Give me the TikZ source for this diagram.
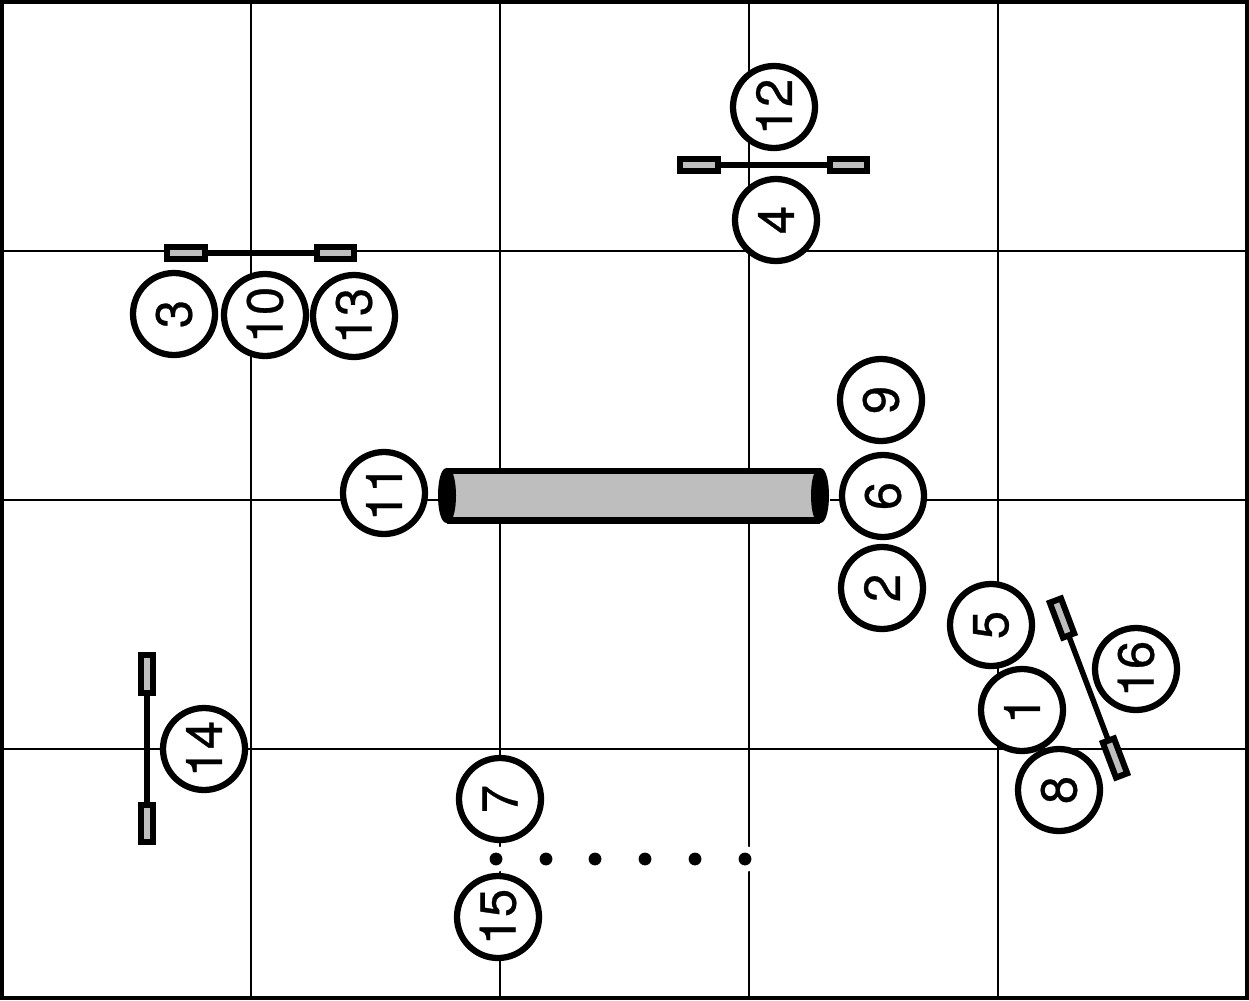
\documentclass[tikz,border=0pt]{standalone}
\usepackage{fontspec}
\setmainfont[FakeBold=0.6]{TeX Gyre Heros}
\definecolor{fillgrey}{HTML}{BEBEBE}
\tikzset{
  px/.style={x=0.75pt,y=-0.75pt},
  gridline/.style={line width=1.5pt,black},
  frameline/.style={line width=3pt,black},
  player/.style={circle,draw=black,fill=white,line width=4.7pt,minimum size=61.5pt,inner sep=0pt,outer sep=0pt,rotate=90,font=\fontsize{38}{38}\selectfont},
  barline/.style={line width=4.1pt,black},
  barend/.style={rectangle,draw=black,fill=fillgrey,line width=4.5pt,minimum width=28pt,minimum height=9pt,inner sep=0pt,outer sep=0pt},
  marker/.style={circle,fill=black,minimum size=9.6pt,inner sep=0pt,outer sep=0pt},
  halo/.style={circle,fill=white,minimum size=19.5pt,inner sep=0pt,outer sep=0pt},
  tubecap/.style={draw=black,fill=black,line width=3.75pt},
}
\begin{document}
\begin{tikzpicture}[px]
\useasboundingbox (0,0) rectangle (1249,1000);
\fill[white] (0,0) rectangle (1249,1000);

% field grid
\foreach \gx in {251,500,749,998} \draw[gridline] (\gx,0) -- (\gx,1000);
\foreach \gy in {251,500,749} \draw[gridline] (0,\gy) -- (1249,\gy);
\draw[frameline] (2,2) rectangle (1247,998);

% row of small markers
\foreach \mx [count=\mi] in {496,546,595,645,695,745} {
  \node[halo] at (\mx,859) {};
  \node[marker] (dot\mi) at (\mx,859) {};
}

% gates
\node[barend] (ga) at (699,165) {};
\node[barend] (gb) at (848.5,165) {};
\draw[barline] (ga) -- (gb);
\node[barend] (ha) at (186,253) {};
\node[barend] (hb) at (335.5,253) {};
\draw[barline] (ha) -- (hb);
\node[barend,rotate=90] (ia) at (147,674) {};
\node[barend,rotate=90] (ib) at (147,823.5) {};
\draw[barline] (ia) -- (ib);
\node[barend,rotate=-69.3] (ja) at (1062,618) {};
\node[barend,rotate=-69.3] (jb) at (1115,758) {};
\draw[barline] (ja) -- (jb);

% long cylinder with dark end caps
\node[rectangle,draw=black,fill=fillgrey,line width=5pt,minimum width=279.75pt,minimum height=37pt,inner sep=0pt,outer sep=0pt] (tube) at (633.5,495.5) {};
\fill[white] (438,464) rectangle (447,527);
\fill[white] (820,464) rectangle (830,527);
\draw[tubecap] (447,495.5) ellipse [x radius=6.5,y radius=25];
\draw[tubecap] (820,495.5) ellipse [x radius=6.5,y radius=25];

% numbered players
\node[player] (p3) at (174,314) {3};
\node[player] (p10) at (265,315) {10};
\node[player] (p13) at (354,316) {13};
\node[player] (p12) at (774,107) {12};
\node[player] (p4) at (776,220) {4};
\node[player] (p9) at (881,400) {9};
\node[player] (p6) at (883,496) {6};
\node[player] (p2) at (882,588) {2};
\node[player] (p11) at (384,493) {11};
\node[player] (p5) at (991,625) {5};
\node[player] (p16) at (1136,669) {16};
\node[player] (p1) at (1022,710) {1};
\node[player] (p8) at (1059,790) {8};
\node[player] (p14) at (204,749) {14};
\node[player] (p7) at (500,799) {7};
\node[player] (p15) at (498,917) {15};
\end{tikzpicture}
\end{document}
